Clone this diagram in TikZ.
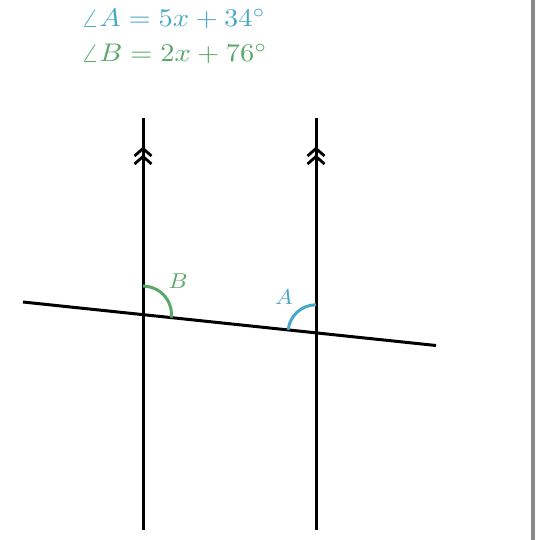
\documentclass[tikz,border=0pt]{standalone}
\usepackage{graphicx}
\definecolor{angblue}{RGB}{72,168,200}
\definecolor{anggreen}{RGB}{88,168,104}
\definecolor{barGray}{RGB}{136,136,136}
\tikzset{
  mainline/.style={line width=3pt, black},
  chev/.style={line width=2.8pt, black, line cap=butt, line join=miter},
  angarc/.style={line width=3pt},
  eqtext/.style={anchor=base west, inner sep=0pt},
  anglabel/.style={inner sep=0pt}
}
\begin{document}
\begin{tikzpicture}[x=1pt,y=-1pt]
\useasboundingbox (0,0) rectangle (539,540);
\fill[white] (0,0) rectangle (539,540);
\fill[barGray] (531,0) rectangle (535,540);
% equations
\node[eqtext, text=angblue] (eqA) at (81,27) {\scalebox{2.85}[2.55]{$\angle A = 5x + 34^\circ$}};
\node[eqtext, text=anggreen] (eqB) at (81,61.5) {\scalebox{2.85}[2.55]{$\angle B = 2x + 76^\circ$}};
% coordinates
\coordinate (L1top) at (143,118);
\coordinate (L1bot) at (143,530);
\coordinate (L2top) at (316,118);
\coordinate (L2bot) at (316,530);
\coordinate (Tl) at (23,302);
\coordinate (Tr) at (436,345.5);
\coordinate (P) at (143,314.6);
\coordinate (Q) at (316,332.8);
% lines
\draw[mainline] (L1top) -- (L1bot);
\draw[mainline] (L2top) -- (L2bot);
\draw[mainline] (Tl) -- (Tr);
% chevrons
\foreach \xx in {143,316}{
  \draw[chev] (\xx-8.5,156) -- (\xx,148.5) -- (\xx+8.5,156);
  \draw[chev] (\xx-8.5,164) -- (\xx,156.5) -- (\xx+8.5,164);
}
% angle arcs
\draw[angarc, anggreen] ([shift={(0,-28.5)}]P) arc[start angle=-90, end angle=6, radius=28.5];
\draw[angarc, angblue] ([shift={(0,-28)}]Q) arc[start angle=-90, end angle=-174, radius=28];
% labels
\node[anglabel, text=anggreen] (labB) at (178,281) {\scalebox{2.35}[2.15]{$B$}};
\node[anglabel, text=angblue] (labA) at (284,297) {\scalebox{2.35}[2.15]{$A$}};
\end{tikzpicture}
\end{document}
